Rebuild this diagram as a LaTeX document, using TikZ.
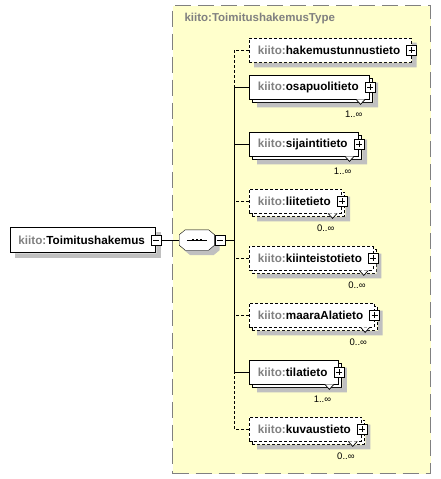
\documentclass[tikz,border=0pt]{standalone}
\usepackage{fontspec}
\setmainfont{Liberation Sans}
\usetikzlibrary{positioning,shadows}
\definecolor{typefill}{HTML}{FFFFCC}
\definecolor{typeborder}{HTML}{808080}
\definecolor{prefixgray}{HTML}{808080}
\definecolor{shadowgray}{HTML}{C0C0C0}
\pgfdeclarelayer{bg}
\pgfdeclarelayer{shadow}
\pgfdeclarelayer{strip}
\pgfdeclarelayer{front}
\pgfsetlayers{bg,shadow,main,strip,front}
\newcommand*\kiito{\textcolor{prefixgray}{kiito:}}
\newcommand*\multnote[2]{%
	\draw[fill=white, line width=0.7pt] ([xshift=-14pt]#1.south east) -- ++(4.5,5) -- ++(4.5,-5);
	\node[multlabel, below left=11.5pt and 7.5pt of #1.south east] (#1-m) {#2};}
\newcommand*\seqpath[2]{([shift={(#2)},xshift=6pt]#1.north west) -- ([shift={(#2)},xshift=-6pt]#1.north east)
	-- ([shift={(#2)},yshift=-5pt]#1.north east) -- ([shift={(#2)},yshift=5pt]#1.south east)
	-- ([shift={(#2)},xshift=-6pt]#1.south east) -- ([shift={(#2)},xshift=6pt]#1.south west)
	-- ([shift={(#2)},yshift=5pt]#1.south west) -- ([shift={(#2)},yshift=-5pt]#1.north west) -- cycle}
\newcommand*\boxstrip[2]{%
	\fill[shadowgray] ([shift={(#2)},xshift=0.4pt,yshift=-5pt]#1.north east)
		-- ([shift={(#2)},xshift=5pt,yshift=-5pt]#1.north east)
		-- ([shift={(#2)},xshift=5pt,yshift=-5pt]#1.south east)
		-- ([shift={(#2)},xshift=5pt,yshift=-5pt]#1.south west)
		-- ([shift={(#2)},xshift=5pt,yshift=-0.4pt]#1.south west)
		-- ([shift={(#2)},xshift=0.4pt,yshift=-0.4pt]#1.south east) -- cycle;}

\tikzset{
	elem/.style={draw, fill=white, line width=0.8pt, anchor=west, minimum height=24pt,
		inner xsep=8.5pt, inner ysep=0pt, font=\fontsize{11.7}{13}\selectfont\bfseries,
		execute at end node={\hspace{2.5pt}}},
	stack/.style={copy shadow={shadow xshift=3pt, shadow yshift=-3pt}},
	opt/.style={dash pattern=on 3pt off 2pt},
	multlabel/.style={inner sep=0pt, font=\fontsize{9.5}{11}\selectfont},
	plusbox/.style={draw, fill=white, line width=0.7pt, minimum size=10pt, inner sep=0pt,
		path picture={\draw ([xshift=2pt]path picture bounding box.west) -- ([xshift=-2pt]path picture bounding box.east)
			([yshift=-2pt]path picture bounding box.north) -- ([yshift=2pt]path picture bounding box.south);}},
	minusbox/.style={draw, fill=white, line width=0.7pt, minimum size=10pt, inner sep=0pt,
		path picture={\draw ([xshift=2pt]path picture bounding box.west) -- ([xshift=-2pt]path picture bounding box.east);}},
	seqbox/.style={minimum width=35pt, minimum height=20pt, inner sep=0pt}
}

\begin{document}
\begin{tikzpicture}[x=1pt, y=-1pt, line width=0.8pt, node distance=57pt]
	\useasboundingbox (0,0) rectangle (441,479);

	% complex type area
	\begin{pgfonlayer}{bg}
	\node[draw=typeborder, fill=typefill, line width=1.3pt, dash pattern=on 16pt off 7pt,
		minimum width=258pt, minimum height=468pt, inner sep=0pt, anchor=north west] (type) at (172,5) {};
	\end{pgfonlayer}
	\node[anchor=west, text=prefixgray, font=\fontsize{11.5}{13}\selectfont\bfseries] (typename) at (181,19) {kiito:ToimitushakemusType};

	% root element and sequence
	\node[elem, minimum height=25pt, inner xsep=8pt] (toimitus) at (10,240) {\kiito Toimitushakemus};
	\begin{pgfonlayer}{front}
	\node[minusbox] (toimitus-c) at (toimitus.east) {};
	\end{pgfonlayer}
	\node[seqbox, right=18pt of toimitus-c] (seq) {};
	\draw[fill=white] \seqpath{seq}{0pt,0pt};
	\draw ([xshift=-10pt]seq.center) -- ([xshift=10pt]seq.center);
	\foreach \i in {-4,0,4}
		\fill[shift={(seq.center)}] (\i-1.3,-1.3) rectangle (\i+1.3,1.3);
	\node[minusbox, right=0pt of seq] (seq-c) {};
	\coordinate[right=9pt of seq-c] (bb);

	% children
	\node[elem, opt] (hakem) at (249,50) {\kiito hakemustunnustieto};
	\node[elem, stack, below=37pt of hakem.west, anchor=west] (osapuoli) {\kiito osapuolitieto};
	\node[elem, stack, below=of osapuoli.west, anchor=west] (sijainti) {\kiito sijaintitieto};
	\node[elem, stack, opt, below=of sijainti.west, anchor=west] (liite) {\kiito liitetieto};
	\node[elem, stack, opt, below=of liite.west, anchor=west] (kiint) {\kiito kiinteistotieto};
	\node[elem, stack, opt, below=of kiint.west, anchor=west] (maara) {\kiito maaraAlatieto};
	\node[elem, stack, below=of maara.west, anchor=west] (tila) {\kiito tilatieto};
	\node[elem, stack, opt, below=of tila.west, anchor=west] (kuvaus) {\kiito kuvaustieto};

	% shadows
	\begin{pgfonlayer}{shadow}
	\fill[shadowgray] \seqpath{seq}{5pt,-5pt};
	\end{pgfonlayer}
	\begin{pgfonlayer}{strip}
	\boxstrip{toimitus}{0pt,0pt}
	\boxstrip{hakem}{0pt,0pt}
	\boxstrip{osapuoli}{3pt,-3pt}
	\boxstrip{sijainti}{3pt,-3pt}
	\boxstrip{liite}{3pt,-3pt}
	\boxstrip{kiint}{3pt,-3pt}
	\boxstrip{maara}{3pt,-3pt}
	\boxstrip{tila}{3pt,-3pt}
	\boxstrip{kuvaus}{3pt,-3pt}
	\end{pgfonlayer}

	% connectors
	\draw[opt] (hakem.west) -| (bb) (liite.west) -| (bb) (kiint.west) -| (bb)
		(maara.west) -| (bb) (kuvaus.west) -| (bb);
	\draw (toimitus-c.east) -- (seq.west) (seq-c.east) -- (bb)
		(osapuoli.west) -| (bb) (sijainti.west) -| (bb) (tila.west) -| (bb);

	\begin{pgfonlayer}{front}
	\node[plusbox] (hakem-c) at (hakem.east) {};
	\node[plusbox] (osapuoli-c) at (osapuoli.east) {};
	\node[plusbox] (sijainti-c) at (sijainti.east) {};
	\node[plusbox] (liite-c) at (liite.east) {};
	\node[plusbox] (kiint-c) at (kiint.east) {};
	\node[plusbox] (maara-c) at (maara.east) {};
	\node[plusbox] (tila-c) at (tila.east) {};
	\node[plusbox] (kuvaus-c) at (kuvaus.east) {};

	% occurrences
	\multnote{osapuoli}{1..∞}
	\multnote{sijainti}{1..∞}
	\multnote{liite}{0..∞}
	\multnote{kiint}{0..∞}
	\multnote{maara}{0..∞}
	\multnote{tila}{1..∞}
	\multnote{kuvaus}{0..∞}
	\end{pgfonlayer}
\end{tikzpicture}
\end{document}
